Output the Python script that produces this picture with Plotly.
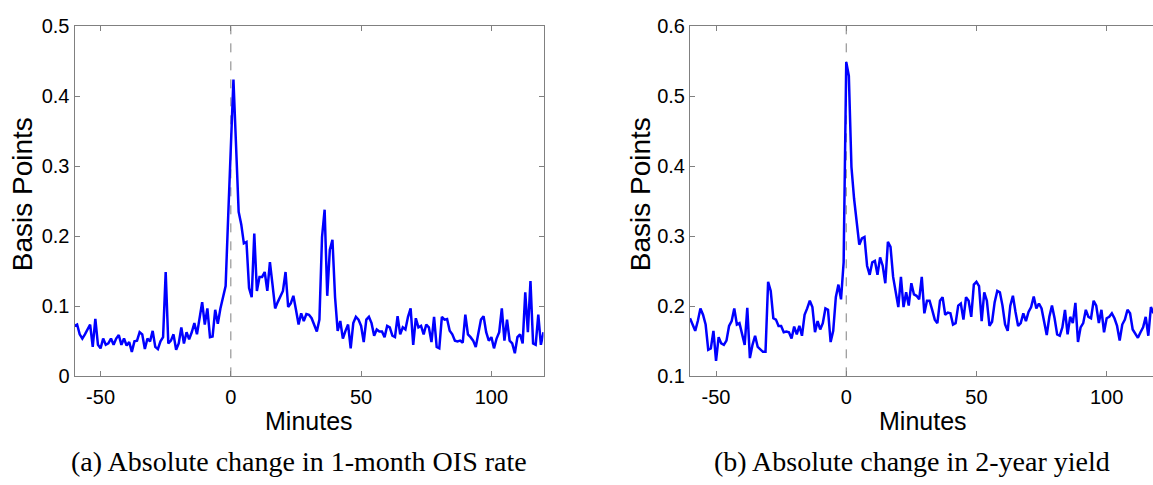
import plotly.graph_objects as go

# ---------------- data ----------------
minutes_a = list(range(-60, 121))
ois_1m = [
    0.072, 0.074, 0.060, 0.054, 0.060, 0.067, 0.074, 0.042, 0.082, 0.045,
    0.040, 0.054, 0.045, 0.047, 0.054, 0.045, 0.054, 0.059, 0.045, 0.054,
    0.044, 0.049, 0.035, 0.050, 0.051, 0.063, 0.060, 0.039, 0.054, 0.050,
    0.065, 0.042, 0.039, 0.050, 0.056, 0.149, 0.047, 0.051, 0.060, 0.038,
    0.047, 0.070, 0.047, 0.063, 0.053, 0.063, 0.076, 0.060, 0.085, 0.106,
    0.074, 0.097, 0.056, 0.057, 0.095, 0.075, 0.097, 0.113, 0.129,
    0.230, 0.320, 0.424, 0.330, 0.235, 0.217, 0.190, 0.192, 0.126, 0.113,
    0.204, 0.122, 0.142, 0.142, 0.149, 0.122, 0.163, 0.131, 0.097, 0.106,
    0.115, 0.122, 0.149, 0.099, 0.104, 0.115, 0.095, 0.074, 0.090, 0.079,
    0.089, 0.088, 0.083, 0.074, 0.064, 0.081, 0.199, 0.238, 0.115, 0.181,
    0.195, 0.113, 0.065, 0.079, 0.054, 0.065, 0.074, 0.040, 0.076, 0.085,
    0.081, 0.072, 0.049, 0.081, 0.085, 0.076, 0.058, 0.067, 0.064, 0.064,
    0.056,
    0.072, 0.070, 0.058, 0.056, 0.086, 0.060, 0.070, 0.067, 0.085, 0.097,
    0.045, 0.083, 0.070, 0.072, 0.060, 0.074, 0.070, 0.049, 0.085, 0.042,
    0.040, 0.085, 0.081, 0.082, 0.065, 0.060, 0.051, 0.050, 0.051, 0.048,
    0.088, 0.060, 0.056, 0.051, 0.042, 0.063, 0.081, 0.086, 0.063, 0.051,
    0.056, 0.040, 0.054, 0.063, 0.097, 0.051, 0.081, 0.051, 0.047, 0.033,
    0.056, 0.060, 0.047, 0.120, 0.063, 0.136, 0.047, 0.045, 0.088, 0.045,
    0.063,
]

minutes_b = list(range(-60, 119))
yield_2y = [
    0.183, 0.174, 0.165, 0.179, 0.197, 0.188, 0.174, 0.138, 0.140, 0.165,
    0.122, 0.156, 0.147, 0.145, 0.151, 0.172, 0.179, 0.197, 0.174, 0.176,
    0.158, 0.145, 0.198, 0.126, 0.145, 0.158, 0.142, 0.138, 0.135, 0.135,
    0.235, 0.222, 0.183, 0.181, 0.172, 0.172, 0.163, 0.164, 0.163, 0.154,
    0.171, 0.160, 0.172, 0.158, 0.188, 0.197, 0.208, 0.199, 0.163, 0.179,
    0.167, 0.176, 0.197, 0.195, 0.149, 0.165, 0.213, 0.231, 0.210, 0.263,
    0.549, 0.529, 0.399, 0.354, 0.322, 0.288, 0.297, 0.299, 0.258, 0.245,
    0.263, 0.265, 0.245, 0.270, 0.258, 0.233, 0.292, 0.285, 0.242, 0.222,
    0.199, 0.242, 0.199, 0.220, 0.201, 0.233, 0.217, 0.215, 0.210, 0.242,
    0.190, 0.208, 0.208, 0.195, 0.181, 0.176, 0.208, 0.213, 0.188, 0.191,
    0.190, 0.174, 0.176, 0.201, 0.204, 0.181, 0.213, 0.208, 0.185, 0.231,
    0.235, 0.229, 0.179, 0.220, 0.208, 0.172, 0.178,
    0.206, 0.222, 0.220, 0.201, 0.174, 0.165, 0.201, 0.215, 0.192, 0.172,
    0.176, 0.190, 0.179, 0.192, 0.199, 0.214, 0.197, 0.204, 0.197, 0.179,
    0.159, 0.185, 0.201, 0.183, 0.160, 0.158, 0.170, 0.195, 0.160, 0.185,
    0.176, 0.205, 0.149, 0.170, 0.176, 0.195, 0.185, 0.183, 0.208, 0.201,
    0.176, 0.195, 0.163, 0.183, 0.185, 0.190, 0.183, 0.172, 0.151, 0.174,
    0.181, 0.195, 0.190, 0.167, 0.160, 0.155, 0.163, 0.170, 0.185, 0.158,
    0.199, 0.190,
]

x_ticks = [-50, 0, 50, 100]
x_tick_labels = ["-50", "0", "50", "100"]
y_ticks_a = [0, 0.1, 0.2, 0.3, 0.4, 0.5]
y_tick_labels_a = ["0", "0.1", "0.2", "0.3", "0.4", "0.5"]
y_ticks_b = [0.1, 0.2, 0.3, 0.4, 0.5, 0.6]
y_tick_labels_b = ["0.1", "0.2", "0.3", "0.4", "0.5", "0.6"]

caption_a = "(a) Absolute change in 1-month OIS rate"
caption_b = "(b) Absolute change in 2-year yield"

# ---------------- figure ----------------
W, H = 1153, 485
fig = go.Figure()

line_style = dict(color="#0000FF", width=2.5)
fig.add_trace(go.Scatter(x=minutes_a, y=ois_1m, mode="lines", line=line_style,
                         xaxis="x", yaxis="y", showlegend=False, hoverinfo="skip"))
fig.add_trace(go.Scatter(x=minutes_b, y=yield_2y, mode="lines", line=line_style,
                         xaxis="x2", yaxis="y2", showlegend=False, hoverinfo="skip"))

tick_font = dict(family="Liberation Sans, Arial, sans-serif", size=20, color="black")
frame = "#808080"

y_dom = [(H - 382.7) / H, (H - 16) / H]
xa = dict(showline=True, linecolor=frame, linewidth=1, mirror="ticks",
          ticks="inside", ticklen=5, tickcolor=frame, tickwidth=1,
          tickvals=x_ticks, ticktext=x_tick_labels, tickfont=tick_font,
          ticklabelstandoff=3, showgrid=False, zeroline=False)
ya = dict(showline=True, linecolor=frame, linewidth=1,
          ticks="inside", ticklen=5, tickcolor=frame, tickwidth=1,
          tickfont=tick_font, showgrid=False, zeroline=False, domain=y_dom)

fig.update_layout(
    width=W, height=H,
    margin=dict(l=0, r=0, t=0, b=0),
    paper_bgcolor="white", plot_bgcolor="white",
    xaxis=dict(xa, domain=[74.5 / W, 543.5 / W], range=[-60, 120], anchor="y"),
    yaxis=dict(ya, mirror="ticks", range=[0, 0.5], tickvals=y_ticks_a,
               ticktext=y_tick_labels_a, anchor="x"),
    xaxis2=dict(xa, domain=[690 / W, 1.0], range=[-60, 117.8], anchor="y2"),
    yaxis2=dict(ya, mirror=False, range=[0.1, 0.6], tickvals=y_ticks_b,
                ticktext=y_tick_labels_b, anchor="x2"),
)

# dashed event lines at t = 0
for xr, yr in (("x", "y domain"), ("x2", "y2 domain")):
    fig.add_shape(type="line", xref=xr, yref=yr, x0=0, x1=0, y0=0, y1=1,
                  line=dict(color="#808080", width=1, dash="dash"), layer="below")

ylab_font = dict(family="Liberation Sans, Arial, sans-serif", size=28, color="black")
xlab_font = dict(family="Liberation Sans, Arial, sans-serif", size=25, color="black")
cap_font = dict(family="Liberation Serif, Times New Roman, serif", size=28, color="black")

ann = []
for xc in (22, 640):
    ann.append(dict(text="Basis Points", x=xc / W, y=1 - 192 / H, xref="paper", yref="paper",
                    textangle=-90, showarrow=False, font=ylab_font,
                    xanchor="center", yanchor="middle"))
for xc in (309, 923):
    ann.append(dict(text="Minutes", x=xc / W, y=1 - 429 / H, xref="paper", yref="paper",
                    showarrow=False, font=xlab_font, xanchor="center", yanchor="middle"))
ann.append(dict(text=caption_a, x=299 / W, y=1 - 472 / H, xref="paper", yref="paper",
                showarrow=False, font=cap_font, xanchor="center", yanchor="middle"))
ann.append(dict(text=caption_b, x=912 / W, y=1 - 472 / H, xref="paper", yref="paper",
                showarrow=False, font=cap_font, xanchor="center", yanchor="middle"))
fig.update_layout(annotations=ann)

fig.write_html("out.html")
